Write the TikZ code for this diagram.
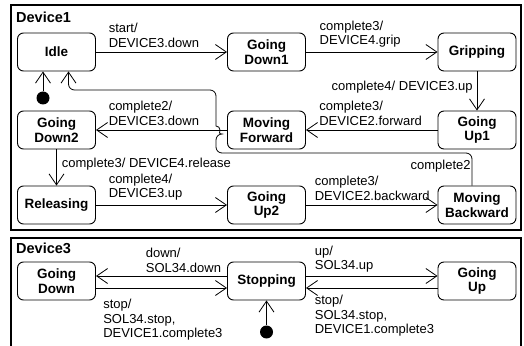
\documentclass[tikz,border=0pt]{standalone}
\usepackage{fontspec}
\setmainfont{Liberation Sans}
\usetikzlibrary{positioning,calc,arrows.meta}

\begin{document}
\begin{tikzpicture}[x=1pt, y=1pt,
    state/.style={draw=black, line width=0.9pt, rounded corners=6pt,
        minimum width=78pt, minimum height=38pt,
        text centered, align=center,
        font=\fontsize{13.5}{14.5}\selectfont\bfseries},
    init/.style={circle, fill=black, minimum size=13pt, inner sep=0pt},
    trans/.style={-{Straight Barb[length=11pt,width=15pt]}, line width=0.8pt},
    lbl/.style={align=left, inner sep=1pt, font=\fontsize{13}{14.5}\selectfont},
    lblup/.style={lbl, anchor=south west, yshift=3pt},
    frame/.style={line width=1.3pt},
    title/.style={anchor=west, inner sep=0pt, font=\fontsize{14.5}{16}\selectfont\bfseries}]

    \useasboundingbox (0,0) rectangle (524,345);

    %Device1
    \draw[frame] (11,115) rectangle (521,340);
    \node[title] (D1) at (16,328) {Device1};

    %top row
    \node[state] (Idle) at (56.5,293) {Idle};
    \node[state] (GD1) at (266.5,293) {Going\\Down1};
    \node[state] (Grip) at (477,293) {Gripping};
    \node[init] (init1) at (43,247) {};

    %middle row
    \node[state] (GD2) at (56.5,215) {Going\\Down2};
    \node[state] (MF) at (266.5,215) {Moving\\Forward};
    \node[state] (GU1) at (477,215) {Going\\Up1};

    %bottom row
    \node[state] (Rel) at (56.5,140) {Releasing};
    \node[state] (GU2) at (266.5,140) {Going\\Up2};
    \node[state] (MB) at (477,140) {Moving\\Backward};

    \path[trans]
        (init1) edge (init1 |- Idle.south)
        (Idle) edge node[lblup, pos=0.087] {start/\\DEVICE3.down} (GD1)
        (GD1) edge node[lblup, pos=0.094] {complete3/\\DEVICE4.grip} (Grip)
        (Grip) edge node[lbl, pos=0.4, left=3pt] {complete4/ DEVICE3.up} (GU1)
        (GU1) edge node[lblup, pos=0.909] {complete3/\\DEVICE2.forward} (MF)
        (MF) edge node[lblup, pos=0.913] {complete2/\\DEVICE3.down} (GD2)
        (GD2) edge node[lbl, pos=0.42, right=4pt] {complete3/ DEVICE4.release} (Rel)
        (Rel) edge node[lblup, pos=0.087] {complete4/\\DEVICE3.up} (GU2)
        (GU2) edge node[lblup, pos=0.057] {complete3/\\DEVICE2.backward} (MB)
        ;

    %back to idle, hopping over the forward line
    \draw[trans, rounded corners=6pt] ([xshift=-5pt]MB.north)
        |- node[lbl, pos=0.3, left] {complete2} (216,192) -- (216,211)
        [sharp corners] arc[start angle=-90, end angle=90, radius=4]
        [rounded corners=6pt] -- (216,255) -| ([xshift=12pt]Idle.south);

    %Device3
    \draw[frame] (11,-5) -- (11,107) -- (521,107) -- (521,-5);
    \node[title] (D3) at (16,97) {Device3};

    \node[state] (GD) at (56.5,64) {Going\\Down};
    \node[state] (Stop) at (266.5,64) {Stopping};
    \node[state] (GU) at (477,64) {Going\\Up};
    \node[init] (init3) at (266.5,13) {};

    \path[trans]
        (init3) edge (Stop)
        ([yshift=5pt]Stop.west) edge node[lblup, pos=0.63, yshift=-1pt] {down/\\SOL34.down} ([yshift=5pt]GD.east)
        ([yshift=-7pt]GD.east) edge node[lbl, pos=0.045, anchor=north west, yshift=-10pt] {stop/\\SOL34.stop,\\DEVICE1.complete3} ([yshift=-7pt]Stop.west)
        ([yshift=5pt]Stop.east) edge node[lblup, pos=0.057, yshift=-1pt] {up/\\SOL34.up} ([yshift=5pt]GU.west)
        ([yshift=-7pt]GU.west) edge node[lbl, pos=0.943, anchor=north west, yshift=-6pt] {stop/\\SOL34.stop,\\DEVICE1.complete3} ([yshift=-7pt]Stop.east)
        ;

\end{tikzpicture}
\end{document}
